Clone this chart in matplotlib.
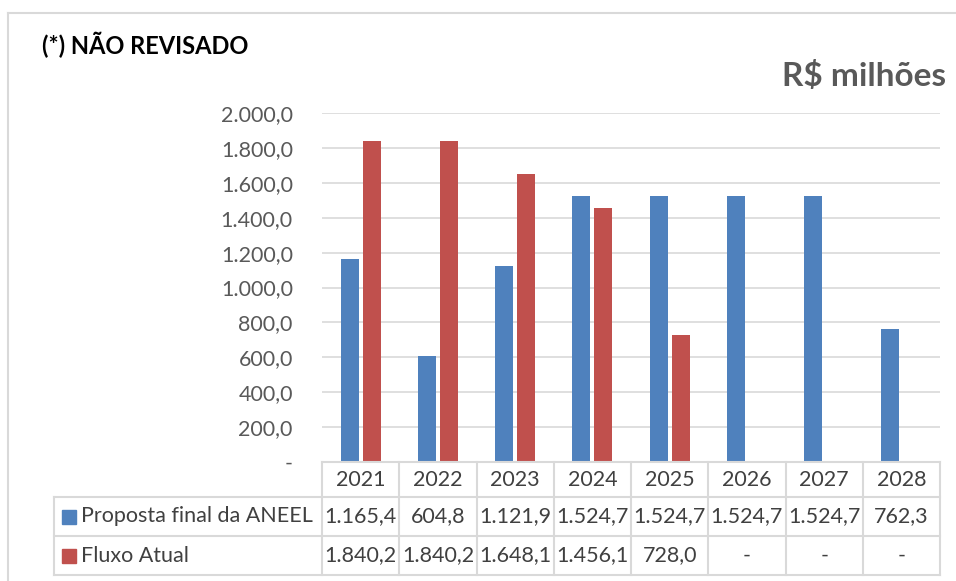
import matplotlib.pyplot as plt
from matplotlib.patches import Rectangle
from matplotlib.lines import Line2D

plt.rcParams['font.family'] = ['Lato', 'DejaVu Sans']

# dados
anos = ['2021', '2022', '2023', '2024', '2025', '2026', '2027', '2028']
proposta = [1165.4, 604.8, 1121.9, 1524.7, 1524.7, 1524.7, 1524.7, 762.3]
fluxo = [1840.2, 1840.2, 1648.1, 1456.1, 728.0, None, None, None]
proposta_txt = ['1.165,4', '604,8', '1.121,9', '1.524,7', '1.524,7', '1.524,7', '1.524,7', '762,3']
fluxo_txt = ['1.840,2', '1.840,2', '1.648,1', '1.456,1', '728,0', '-', '-', '-']
yticks = [0, 200, 400, 600, 800, 1000, 1200, 1400, 1600, 1800, 2000]
ytick_labels = ['-', '200,0', '400,0', '600,0', '800,0', '1.000,0', '1.200,0',
                '1.400,0', '1.600,0', '1.800,0', '2.000,0']

AZUL = '#4F81BD'
VERMELHO = '#C0504D'
CINZA = '#D9D9D9'
TEXTO = '#595959'
FS = 15.5

W, H = 956, 581
fig = plt.figure(figsize=(W / 100, H / 100), dpi=100)

def fx(px):
    return px / W

def fy(py):
    return 1 - py / H

# area do grafico (pixels da referencia)
L, R, T, B = 322, 940, 113, 462
ax = fig.add_axes([fx(L), fy(B), fx(R) - fx(L), fy(T) - fy(B)])

x = list(range(len(anos)))
bw = 0.235
ax.bar([i - bw / 2 - 0.025 for i in x], proposta, width=bw, color=AZUL, zorder=3)
ax.bar([i + bw / 2 + 0.025 for i, v in zip(x, fluxo) if v is not None],
       [v for v in fluxo if v is not None], width=bw, color=VERMELHO, zorder=3)

ax.set_xlim(-0.5, len(anos) - 0.5)
ax.set_ylim(0, 2000)
ax.set_yticks(yticks)
ax.set_yticklabels(ytick_labels, fontsize=FS, color=TEXTO)
ax.set_xticks([])
ax.tick_params(axis='y', length=0, pad=21)
ax.grid(axis='y', color=CINZA, linewidth=1.2, zorder=0)
for s in ax.spines.values():
    s.set_visible(False)

# tabela de dados
col_w = (R - L) / len(anos)
rows = [462, 497, 536, 575]
left_tab = 54
trans = fig.transFigure

def hline(x0, x1, y):
    fig.add_artist(Line2D([fx(x0), fx(x1)], [fy(y), fy(y)], color=CINZA, lw=1.5, transform=trans))

def vline(xp, y0, y1):
    fig.add_artist(Line2D([fx(xp), fx(xp)], [fy(y0), fy(y1)], color=CINZA, lw=1.5, transform=trans))

hline(L, R, rows[0])
for y in rows[1:]:
    hline(left_tab, R, y)
for i in range(len(anos) + 1):
    vline(L + i * col_w, rows[0], rows[3])
vline(left_tab, rows[1], rows[3])

TAB = '#404040'
for i, ano in enumerate(anos):
    cx = fx(L + (i + 0.5) * col_w)
    fig.text(cx, fy((rows[0] + rows[1]) / 2), ano, ha='center', va='center', fontsize=FS, color=TAB)
    fig.text(cx, fy((rows[1] + rows[2]) / 2), proposta_txt[i], ha='center', va='center', fontsize=FS, color=TAB)
    fig.text(cx, fy((rows[2] + rows[3]) / 2), fluxo_txt[i], ha='center', va='center', fontsize=FS, color=TAB)

for (nome, cor), (r0, r1) in zip([('Proposta final da ANEEL', AZUL), ('Fluxo Atual', VERMELHO)],
                                 [(rows[1], rows[2]), (rows[2], rows[3])]):
    yc = (r0 + r1) / 2
    fig.add_artist(Rectangle((fx(62), fy(yc + 7)), fx(14), fy(0) - fy(14), color=cor, transform=trans))
    fig.text(fx(81), fy(yc), nome, ha='left', va='center', fontsize=FS, color=TAB)

# moldura externa
fig.add_artist(Line2D([fx(8), fx(956)], [fy(13), fy(13)], color=CINZA, lw=1.5, transform=trans))
fig.add_artist(Line2D([fx(8), fx(8)], [fy(13), fy(581)], color=CINZA, lw=1.5, transform=trans))

fig.text(fx(42), fy(45), '(*) NÃO REVISADO', ha='left', va='center', fontsize=17,
         fontweight='bold', color='black')
fig.text(fx(946), fy(76), 'R$ milhões', ha='right', va='center', fontsize=24,
         fontweight='bold', color=TEXTO)

fig.savefig('out.png', dpi=100)
